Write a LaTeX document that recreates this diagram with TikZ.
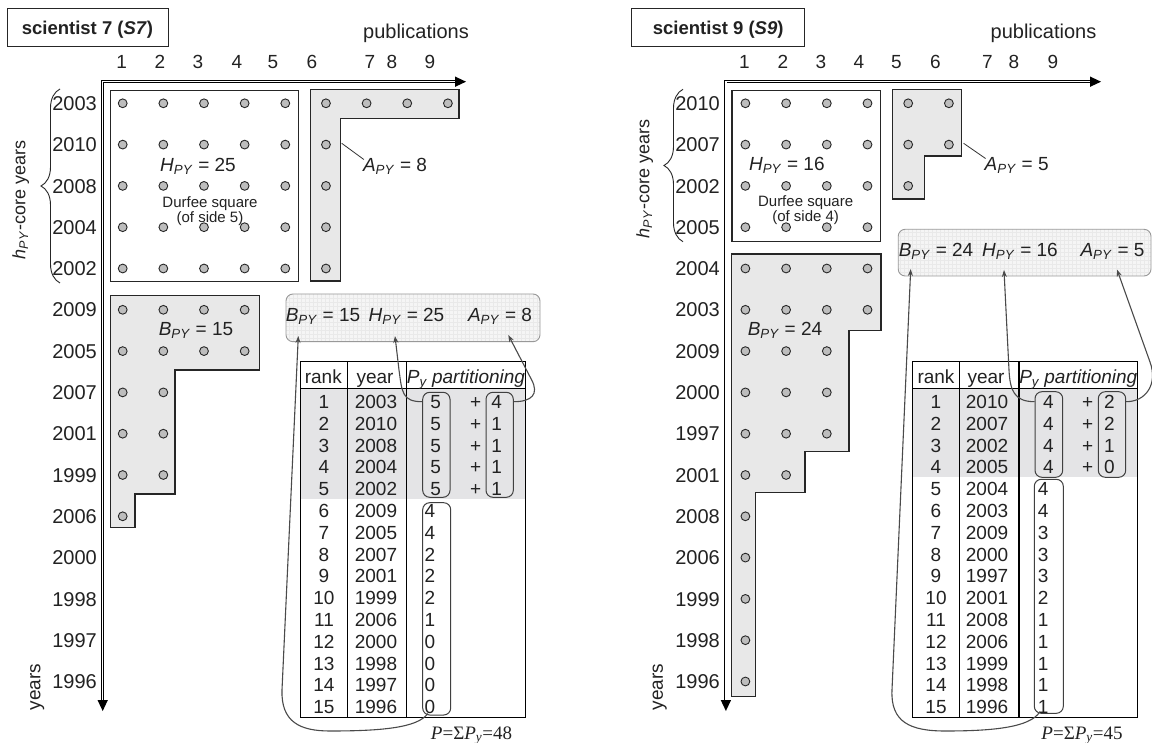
\documentclass[tikz,border=0pt]{standalone}
\usepackage{fontspec}
\setmainfont{Liberation Sans}
\newfontfamily\serifpart{Liberation Serif}
\usetikzlibrary{decorations.pathreplacing,arrows.meta}
\definecolor{dotfill}{HTML}{BDBDBD}
\definecolor{shapefill}{HTML}{E8E8E8}
\definecolor{shadefill}{HTML}{E4E4E6}
\definecolor{sumfill}{HTML}{F5F5F5}
\definecolor{gridcol}{HTML}{E9E9E9}
\definecolor{linkcol}{HTML}{4A4A4A}
\definecolor{ink}{HTML}{222222}
\newcommand{\PYsub}{\textsubscript{\textit{PY}}}
\begin{document}
\begin{tikzpicture}[x=1pt,y=-1pt,
  every node/.style={inner sep=0pt, text depth=0pt, text=ink},
  f20/.style={font=\fontsize{20}{22}\selectfont, text height=14.3pt},
  f19/.style={font=\fontsize{19}{21}\selectfont, text height=13.6pt},
  f18/.style={font=\fontsize{18}{20}\selectfont, text height=12.9pt},
  f15/.style={font=\fontsize{15}{16}\selectfont, text height=10.7pt},
  yearlab/.style={f20, anchor=east},
  dot/.style={circle, minimum size=8.8pt, fill=dotfill, draw=black!85, line width=0.9pt},
  shapebox/.style={fill=shapefill, draw=black!85, line width=1.1pt},
  durfee/.style={fill=white, draw=black!85, line width=1.1pt},
  titlebox/.style={draw=black!85, line width=1pt, font=\fontsize{18.5}{20}\selectfont\bfseries, minimum width=161pt, minimum height=38pt, text height=13.2pt},
  axisline/.style={draw=black, double=white, double distance=1.3pt, line width=0.8pt},
  axistip/.style={fill=black},
  bracestyle/.style={draw=black!85, line width=0.9pt, decorate, decoration={brace, amplitude=19pt}},
  leader/.style={draw=black!80, line width=0.8pt},
  sumbox/.style={draw=black!40, line width=0.9pt, rounded corners=7pt, fill=sumfill,
     path picture={\draw[gridcol, line width=0.3pt, step=4pt] (path picture bounding box.south west) grid (path picture bounding box.north east);}},
  tabline/.style={draw=black, line width=1.2pt},
  pbox/.style={draw=black!75, line width=1pt, rounded corners=7pt},
  sump/.style={font=\fontsize{19}{21}\selectfont\serifpart, text height=12.6pt},
  link/.style={draw=linkcol, line width=1.1pt, -{Stealth[length=7pt,width=5pt]}}
]
\fill[white] (0,0) rectangle (1152,743);
\useasboundingbox (0,0) rectangle (1152,743);

% ================= LEFT PANEL =================
\node[titlebox] (Ltitle) at (87.5,28) {scientist 7 (\textit{S7})};
\node[f20] (Lpub) at (416,31) {publications};
\foreach \c/\x in {1/121.7,2/160,3/198,4/237,5/273,6/312,7/370,8/392,9/430}
  \node[f19] (Lc-\c) at (\x,62) {\c};
% axes
\draw[axisline] (456,81.7) -- (102.7,81.7) -- (102.7,700);
\fill[axistip] (466,81.7) -- (455,76.5) -- (455,86.9) -- cycle;
\fill[axistip] (102.7,711) -- (97.5,700) -- (107.9,700) -- cycle;
% shapes
\draw[durfee] (110.7,90.7) rectangle (298.3,281.7);
\draw[shapebox] (310.7,89.3) -- (459,89.3) -- (459,118.3) -- (340.7,118.3) -- (340.7,281) -- (310.7,281) -- cycle;
\draw[shapebox] (110.7,295.7) -- (259.3,295.7) -- (259.3,370) -- (175,370) -- (175,494) -- (135,494) -- (135,527.3) -- (110.7,527.3) -- cycle;
% dots
\foreach \n [count=\i from 0] in {9,6,6,6,6,4,4,2,2,2,1,0,0,0,0} {
  \ifnum\n>0
    \foreach \j in {1,...,\n} {\node[dot] (Ld-\i-\j) at ({122.7+40.65*(\j-1)},{103.3+41.3*\i}) {};}
  \fi
}
% year labels
\foreach \yr [count=\i from 0] in {2003,2010,2008,2004,2002,2009,2005,2007,2001,1999,2006,2000,1998,1997,1996}
  \node[yearlab] (Ly-\i) at (97,{103.3+41.3*\i}) {\yr};
% brace and axis titles
\draw[bracestyle] (60,283) -- (60,89);
\node[f18, rotate=90] (Lhcore) at (19,200) {\textit{h}\PYsub-core years};
\node[f19, rotate=90] (Lyears) at (33.5,687) {years};
% labels in the plot
\node[f19] (LH) at (198,165) {\textit{H}\PYsub{} = 25};
\node[f15] (LdurfA) at (210,201.7) {Durfee square};
\node[f15] (LdurfB) at (210,216.7) {(of side 5)};
\node[f19] (LB) at (196,328.3) {\textit{B}\PYsub{} = 15};
\node[f19] (LA) at (395,165) {\textit{A}\PYsub{} = 8};
\coordinate (LAcorner) at (341.7,143.3);
\draw[leader] (LAcorner) -- ([shift={(1pt,-1.5pt)}]LA.north west);
% summary box
\node[sumbox, minimum width=254pt, minimum height=47.7pt] (Lsum) at (413,317.85) {};
\node[f19] (LsB) at (323,315) {\textit{B}\PYsub{} = 15};
\node[f19] (LsH) at (406.5,315) {\textit{H}\PYsub{} = 25};
\node[f19] (LsA) at (500,315) {\textit{A}\PYsub{} = 8};
% table
\fill[shadefill] (300.7,389) rectangle (525.7,498.5);
\node[pbox, minimum width=27.3pt, minimum height=105pt] (Lb1) at (436.35,444.8) {};
\node[pbox, minimum width=27.3pt, minimum height=105pt] (Lb2) at (499.65,444.8) {};
\node[pbox, minimum width=28pt, minimum height=212.3pt] (Lb3) at (436.7,608.85) {};
\draw[tabline] (300.7,361.7) rectangle (525.7,717.3);
\draw[tabline] (300.7,388.7) -- (525.7,388.7);
\draw[tabline] (347.3,361.7) -- (347.3,717.3);
\draw[tabline] (406.7,361.7) -- (406.7,717.3);
\node[f19] (Lh1) at (323.3,376.7) {rank};
\node[f19] (Lh2) at (375,376.7) {year};
\node[f19] (Lh3) at (466,376.7) {\textit{P\textsubscript{y} partitioning}};
\foreach \yr [count=\i] in {2003,2010,2008,2004,2002,2009,2005,2007,2001,1999,2006,2000,1998,1997,1996} {
  \node[f19] (Lr-\i) at (324,{401.7+21.8*(\i-1)}) {\i};
  \node[f19] (Lyr-\i) at (376,{401.7+21.8*(\i-1)}) {\yr};
}
\foreach \s [count=\i] in {4,1,1,1,1} {
  \node[f19] (Lp-\i) at (435.7,{401.7+21.8*(\i-1)}) {5};
  \node[f19] (Lplus-\i) at (475.7,{401.7+21.8*(\i-1)}) {+};
  \node[f19] (Lq-\i) at (496.7,{401.7+21.8*(\i-1)}) {\s};
}
\foreach \s [count=\i from 6] in {4,4,2,2,2,1,0,0,0,0}
  \node[f19, anchor=west] (Lp-\i) at (424.3,{401.7+21.8*(\i-1)}) {\s};
\node[sump] (LP) at (471.5,733) {\textit{P}=Σ\textit{P}\textsubscript{\textit{y}}=48};
% links
\coordinate (LtipB) at (298.3,336);
\coordinate (LtipH) at (395,336);
\coordinate (LtipA) at (508.3,335);
\draw[link] ([shift={(-9pt,2pt)}]Lb3.south) .. controls (418,728) and (380,731) .. (330,731)
   .. controls (300,731) and (281,722) .. (282,690) -- (LtipB);
\draw[link] (Lb1.west |- Lp-1) .. controls (402,401.7) and (402,392) .. (399,370) -- (LtipH);
\draw[link] (Lb2.east |- Lq-1) .. controls (532,401.7) and (539,394) .. (531.7,380) -- (LtipA);

% ================= RIGHT PANEL =================
\node[titlebox, minimum width=172.7pt] (Rtitle) at (718.2,28) {scientist 9 (\textit{S9})};
\node[f20] (Rpub) at (1043.5,31) {publications};
\foreach \c/\x in {1/744.3,2/782.8,3/821,4/858.9,5/896.4,6/935.3,7/987.5,8/1013.9,9/1052.9}
  \node[f19] (Rc-\c) at (\x,62) {\c};
\draw[axisline] (1091,81.7) -- (725.9,81.7) -- (725.9,700);
\fill[axistip] (1101,81.7) -- (1090,76.5) -- (1090,86.9) -- cycle;
\fill[axistip] (725.9,711) -- (720.7,700) -- (731.1,700) -- cycle;
\draw[durfee] (732,90.7) rectangle (880.2,241.7);
\draw[shapebox] (892.7,89.3) -- (961.7,89.3) -- (961.7,156) -- (924.3,156) -- (924.3,199) -- (892.7,199) -- cycle;
\draw[shapebox] (731.7,254) -- (881,254) -- (881,330.7) -- (849,330.7) -- (849,451.7) -- (805,451.7) -- (805,492.3) -- (755.7,492.3) -- (755.7,696.7) -- (731.7,696.7) -- cycle;
\foreach \n [count=\i from 0] in {6,6,5,4,4,4,3,3,3,2,1,1,1,1,1} {
  \ifnum\n>0
    \foreach \j in {1,...,\n} {\node[dot] (Rd-\i-\j) at ({745.4+40.7*(\j-1)},{103.3+41.3*\i}) {};}
  \fi
}
\foreach \yr [count=\i from 0] in {2010,2007,2002,2005,2004,2003,2009,2000,1997,2001,2008,2006,1999,1998,1996}
  \node[yearlab] (Ry-\i) at (720,{103.3+41.3*\i}) {\yr};
\draw[bracestyle] (683,241.7) -- (683,89.3);
\node[f18, rotate=90] (Rhcore) at (643,179) {\textit{h}\PYsub-core years};
\node[f19, rotate=90] (Ryears) at (656,687) {years};
\node[f19] (RH) at (786.8,163.3) {\textit{H}\PYsub{} = 16};
\node[f15] (RdurfA) at (805.6,201) {Durfee square};
\node[f15] (RdurfB) at (805.6,216) {(of side 4)};
\node[f19] (RB) at (785,328.3) {\textit{B}\PYsub{} = 24};
\node[f19] (RA) at (1016.7,164) {\textit{A}\PYsub{} = 5};
\coordinate (RAcorner) at (963.6,143.3);
\draw[leader] (RAcorner) -- ([shift={(1pt,-1.5pt)}]RA.north west);
\node[sumbox, minimum width=252.8pt, minimum height=46.7pt] (Rsum) at (1024.6,252.65) {};
\node[f19] (RsB) at (936,250) {\textit{B}\PYsub{} = 24};
\node[f19] (RsH) at (1020,250) {\textit{H}\PYsub{} = 16};
\node[f19] (RsA) at (1112.5,250) {\textit{A}\PYsub{} = 5};
\fill[shadefill] (912.7,389) rectangle (1137.7,476.5);
\node[pbox, minimum width=27.7pt, minimum height=85.6pt] (Rb1) at (1048.85,434.5) {};
\node[pbox, minimum width=27.4pt, minimum height=85.6pt] (Rb2) at (1112,434.5) {};
\node[pbox, minimum width=29pt, minimum height=234pt] (Rb3) at (1048.8,596.3) {};
\draw[tabline] (912.7,361.7) rectangle (1137.7,717.3);
\draw[tabline] (912.7,388.7) -- (1137.7,388.7);
\draw[tabline] (959.3,361.7) -- (959.3,717.3);
\draw[tabline] (1019,361.7) -- (1019,717.3);
\node[f19] (Rh1) at (936,376.7) {rank};
\node[f19] (Rh2) at (986,376.7) {year};
\node[f19] (Rh3) at (1078.3,376.7) {\textit{P\textsubscript{y} partitioning}};
\foreach \yr [count=\i] in {2010,2007,2002,2005,2004,2003,2009,2000,1997,2001,2008,2006,1999,1998,1996} {
  \node[f19] (Rr-\i) at (936,{401.7+21.8*(\i-1)}) {\i};
  \node[f19] (Ryr-\i) at (987,{401.7+21.8*(\i-1)}) {\yr};
}
\foreach \s [count=\i] in {2,2,1,0} {
  \node[f19] (Rp-\i) at (1048.3,{401.7+21.8*(\i-1)}) {4};
  \node[f19] (Rplus-\i) at (1087.7,{401.7+21.8*(\i-1)}) {+};
  \node[f19] (Rq-\i) at (1109.3,{401.7+21.8*(\i-1)}) {\s};
}
\foreach \s [count=\i from 5] in {4,4,3,3,3,2,1,1,1,1,1}
  \node[f19, anchor=west] (Rp-\i) at (1037.7,{401.7+21.8*(\i-1)}) {\s};
\node[sump] (RP) at (1082,732.7) {\textit{P}=Σ\textit{P}\textsubscript{\textit{y}}=45};
\coordinate (RtipB) at (910.7,269);
\coordinate (RtipH) at (1004,270);
\coordinate (RtipA) at (1117,269.5);
\draw[link] ([shift={(-9pt,2pt)}]Rb3.south) .. controls (1030,728) and (990,731) .. (945,731)
   .. controls (910,731) and (890.5,722) .. (892,690) -- (RtipB);
\draw[link] (Rb1.west |- Rp-1) .. controls (1014,401.7) and (1010,390) .. (1009,370) -- (RtipH);
\draw[link] (Rb2.east |- Rq-1) .. controls (1146,401.7) and (1158,384) .. (1150,362) -- (RtipA);
\end{tikzpicture}
\end{document}
